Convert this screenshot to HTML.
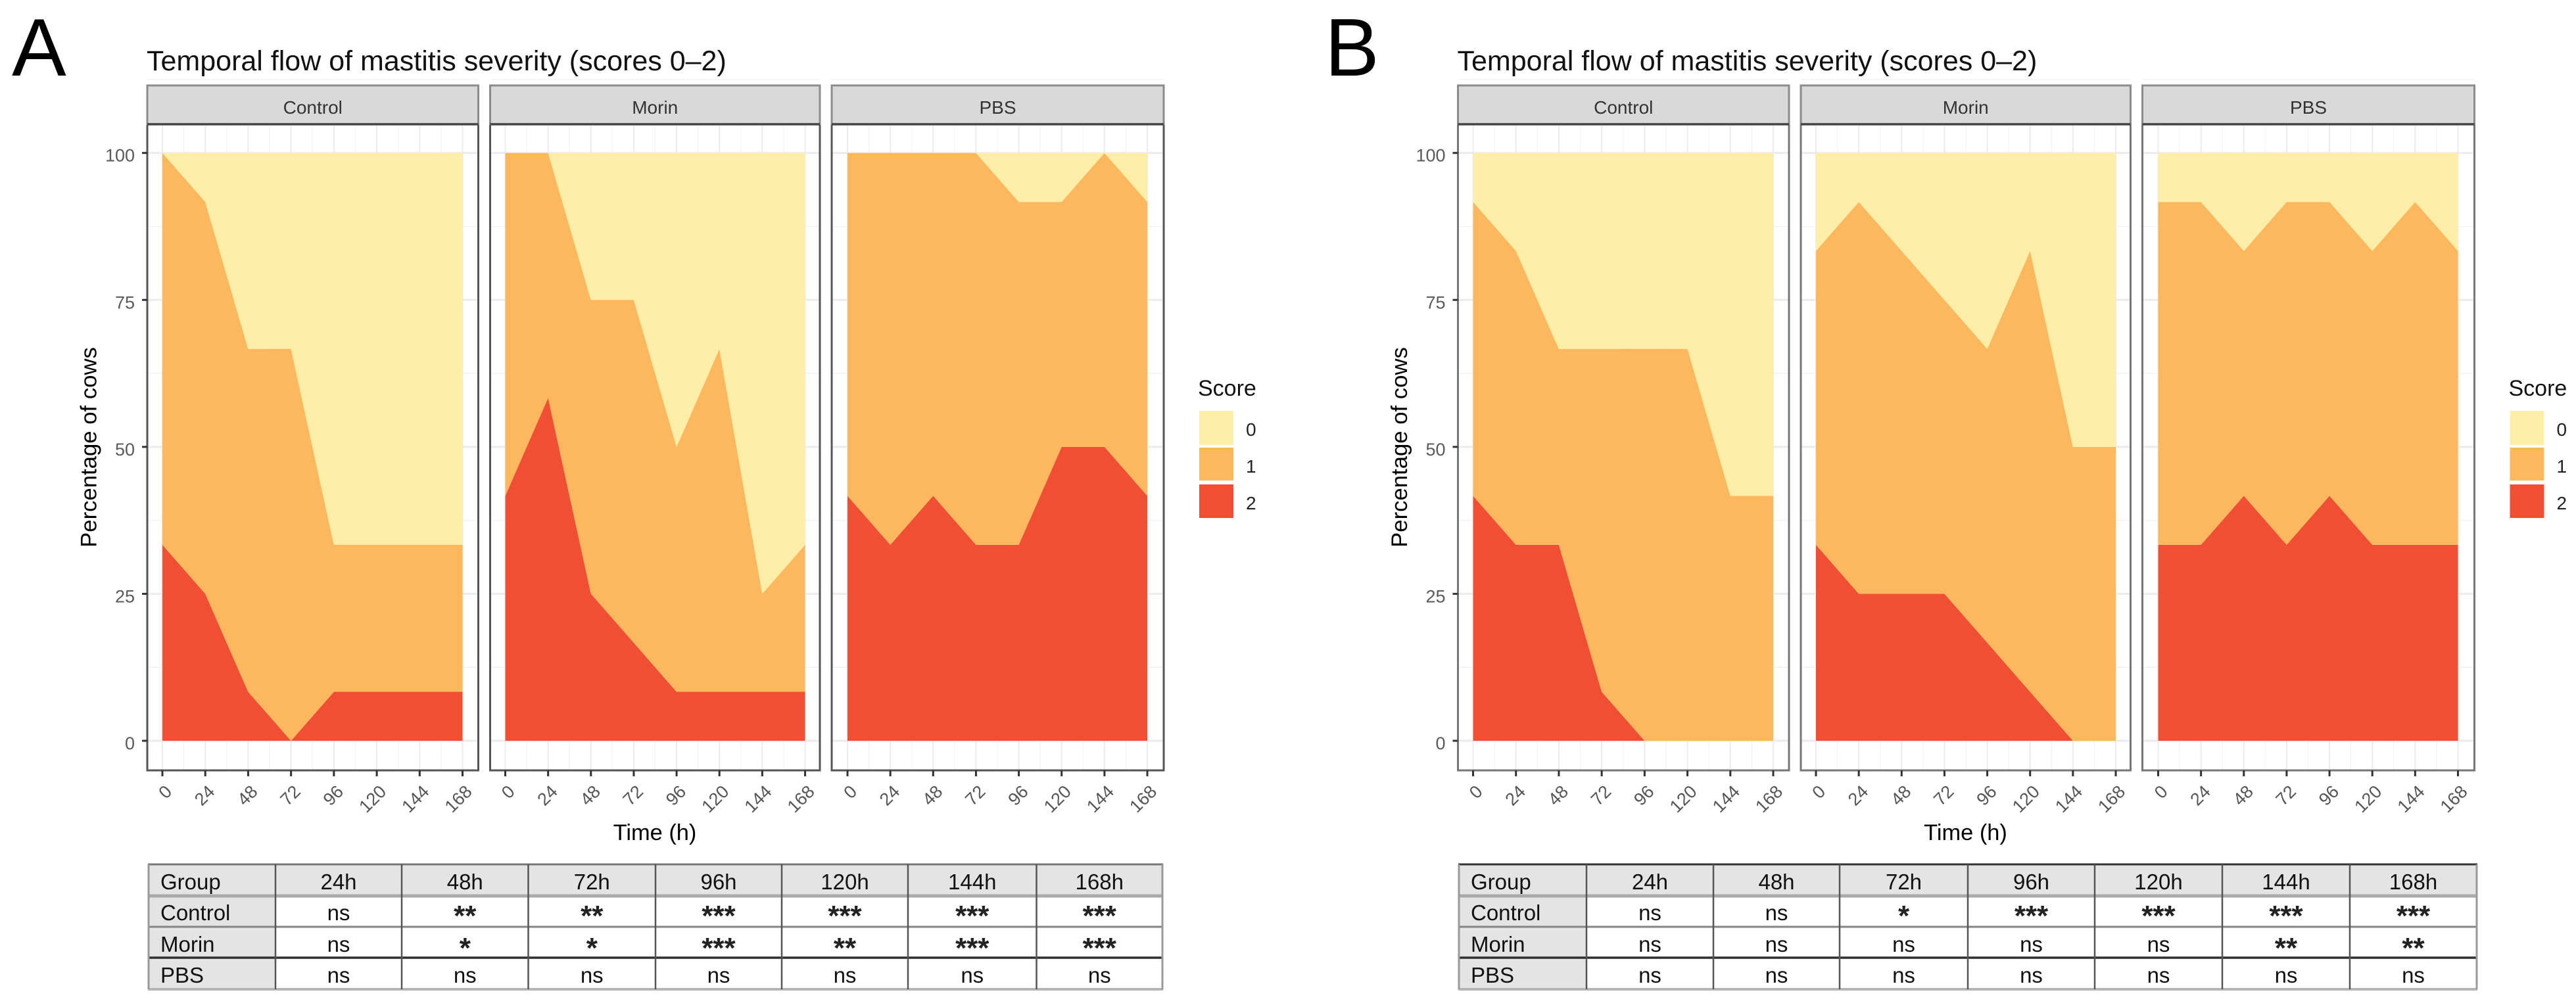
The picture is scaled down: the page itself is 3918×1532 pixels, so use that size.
<!DOCTYPE html>
<html lang="en">
<head>
<meta charset="utf-8">
<title>Temporal flow of mastitis severity</title>
<style>
html,body{margin:0;padding:0;background:#fff;width:3918px;height:1532px;overflow:hidden}
svg{display:block;font-family:"Liberation Sans",Arial,sans-serif}
</style>
</head>
<body>
<svg id="fig" xmlns="http://www.w3.org/2000/svg" width="3918" height="1532" viewBox="0 0 3918 1532"></svg>
<script>
// ---- shared categories and tick labels ----
const hours = [0, 24, 48, 72, 96, 120, 144, 168];
const yTickValues = [0, 25, 50, 75, 100];
const scoreLabels = ['0', '1', '2'];
const groupNames = ['Control', 'Morin', 'PBS'];
const tableHeader = ['Group', '24h', '48h', '72h', '96h', '120h', '144h', '168h'];

// ---- panel A series (percentage of cows) ----
const aControlScore0 = [0, 8.33, 33.33, 33.33, 66.67, 66.67, 66.67, 66.67];
const aControlScore1 = [66.67, 66.67, 58.33, 66.67, 25, 25, 25, 25];
const aControlScore2 = [33.33, 25, 8.33, 0, 8.33, 8.33, 8.33, 8.33];
const aMorinScore0 = [0, 0, 25, 25, 50, 33.33, 75, 66.67];
const aMorinScore1 = [58.33, 41.67, 50, 58.33, 41.67, 58.33, 16.67, 25];
const aMorinScore2 = [41.67, 58.33, 25, 16.67, 8.33, 8.33, 8.33, 8.33];
const aPbsScore0 = [0, 0, 0, 0, 8.33, 8.33, 0, 8.33];
const aPbsScore1 = [58.33, 66.67, 58.33, 66.67, 58.33, 41.67, 50, 50];
const aPbsScore2 = [41.67, 33.33, 41.67, 33.33, 33.33, 50, 50, 41.67];

// ---- panel B series (percentage of cows) ----
const bControlScore0 = [8.33, 16.67, 33.33, 33.33, 33.33, 33.33, 58.33, 58.33];
const bControlScore1 = [50, 50, 33.33, 58.33, 66.67, 66.67, 41.67, 41.67];
const bControlScore2 = [41.67, 33.33, 33.33, 8.33, 0, 0, 0, 0];
const bMorinScore0 = [16.67, 8.33, 16.67, 25, 33.33, 16.67, 50, 50];
const bMorinScore1 = [50, 66.67, 58.33, 50, 50, 75, 50, 50];
const bMorinScore2 = [33.33, 25, 25, 25, 16.67, 8.33, 0, 0];
const bPbsScore0 = [8.33, 8.33, 16.67, 8.33, 8.33, 16.67, 8.33, 16.67];
const bPbsScore1 = [58.33, 58.33, 41.67, 58.33, 50, 50, 58.33, 50];
const bPbsScore2 = [33.33, 33.33, 41.67, 33.33, 41.67, 33.33, 33.33, 33.33];

// ---- significance tables ----
const aControlSig = ['ns', '**', '**', '***', '***', '***', '***'];
const aMorinSig = ['ns', '*', '*', '***', '**', '***', '***'];
const aPbsSig = ['ns', 'ns', 'ns', 'ns', 'ns', 'ns', 'ns'];
const bControlSig = ['ns', 'ns', '*', '***', '***', '***', '***'];
const bMorinSig = ['ns', 'ns', 'ns', 'ns', 'ns', '**', '**'];
const bPbsSig = ['ns', 'ns', 'ns', 'ns', 'ns', 'ns', 'ns'];

// ---- styling and layout (not data) ----
const SCORE_COLORS = ['#FEEEA8', '#FDB85E', '#F14F33'];
const Y_TOP = 232.7, Y_BOTTOM = 1127;
const PANEL_TOP = 189, PANEL_BOTTOM = 1172, STRIP_TOP = 130;
const NS = 'http://www.w3.org/2000/svg';
const root = document.getElementById('fig');

function make(tag, parent, props, text) {
  const el = document.createElementNS(NS, tag);
  for (const k in props) el.setAttribute(k, props[k]);
  if (text !== undefined) el.textContent = text;
  parent.appendChild(el);
  return el;
}
function yScale(v) { return Y_BOTTOM - (v / 100) * (Y_BOTTOM - Y_TOP); }
function xScale(p, h) { return p.x0 + (h / 168) * (p.x1 - p.x0); }

function drawPanel(parent, p, prefix, label, s0, s1, s2, showYAxis, border) {
  const g = make('g', parent, {});
  
  

  // grid
  for (let v = 12.5; v < 125; v += 25) {
    const gl = make('line', g, {x1: p.left, x2: p.right, y1: yScale(v), y2: yScale(v), stroke: '#f2f2f2', 'stroke-width': 1.5});
    
    
  }
  yTickValues.forEach(function (v) {
    const gl = make('line', g, {x1: p.left, x2: p.right, y1: yScale(v), y2: yScale(v), stroke: '#ebebeb', 'stroke-width': 3});
    
    
  });
  hours.forEach(function (h, i) {
    const gl = make('line', g, {x1: xScale(p, h), x2: xScale(p, h), y1: PANEL_TOP, y2: PANEL_BOTTOM, stroke: '#ebebeb', 'stroke-width': 2});
    
    
    if (i < hours.length - 1) {
      const mid = xScale(p, (h + hours[i + 1]) / 2);
      const gm = make('line', g, {x1: mid, x2: mid, y1: PANEL_TOP, y2: PANEL_BOTTOM, stroke: '#f2f2f2', 'stroke-width': 1.2});
      
      
    }
  });

  // stacked areas: score 2 at bottom, then 1, then 0
  const stack = [s2, s1, s0];
  const baseline = hours.map(function () { return 0; });
  stack.forEach(function (series, k) {
    const top = baseline.map(function (b, i) { return b + series[i]; });
    const pts = [];
    hours.forEach(function (h, i) { pts.push(xScale(p, h) + ',' + yScale(top[i])); });
    for (let i = hours.length - 1; i >= 0; i--) pts.push(xScale(p, hours[i]) + ',' + yScale(baseline[i]));
    const area = make('polygon', g, {points: pts.join(' '), fill: SCORE_COLORS[2 - k]});
    
    
    top.forEach(function (t, i) { baseline[i] = t; });
  });

  // border
  const frame = make('rect', g, {x: p.left, y: PANEL_TOP, width: p.right - p.left, height: PANEL_BOTTOM - PANEL_TOP, fill: 'none', stroke: border, 'stroke-width': 3});
  
  

  // strip
  const strip = make('rect', g, {x: p.left, y: STRIP_TOP, width: p.right - p.left, height: PANEL_TOP - STRIP_TOP, fill: '#d9d9d9', stroke: '#8c8c8c', 'stroke-width': 3});
  
  
  const stripLine = make('line', g, {x1: p.left, x2: p.right, y1: PANEL_TOP, y2: PANEL_TOP, stroke: '#444', 'stroke-width': 3.5});
  
  
  const stripText = make('text', g, {x: (p.left + p.right) / 2, y: 173, 'text-anchor': 'middle', 'font-size': 28, fill: '#333'}, label);
  
  

  // x axis
  hours.forEach(function (h) {
    const x = xScale(p, h);
    const t = make('line', g, {x1: x, x2: x, y1: PANEL_BOTTOM, y2: 1181, stroke: '#333', 'stroke-width': 3});
    
    
    const ex = x + 16, ey = 1206;
    const lab = make('text', g, {x: ex, y: ey, 'text-anchor': 'end', 'font-size': 27, fill: '#555', transform: 'rotate(-45 ' + ex + ' ' + ey + ')'}, String(h));
    
    
  });

  // y axis
  if (showYAxis) {
    yTickValues.forEach(function (v) {
      const y = yScale(v);
      const t = make('line', g, {x1: p.left - 8, x2: p.left, y1: y, y2: y, stroke: '#333', 'stroke-width': 3});
      
      
      const lab = make('text', g, {x: p.left - 19, y: y + 13, 'text-anchor': 'end', 'font-size': 27, fill: '#5a5a5a'}, String(v));
      
      
    });
  }
}

function drawLegend(parent, off, prefix) {
  const g = make('g', parent, {});
  
  
  const title = make('text', g, {x: 1822 + off, y: 602, 'font-size': 34, fill: '#111'}, 'Score');
  
  
  const keyTops = [625, 681, 737];
  const keyHeights = [52, 50, 51];
  const labelBase = [663, 719, 775];
  scoreLabels.forEach(function (lab, i) {
    const key = make('rect', g, {x: 1824 + off, y: keyTops[i], width: 52, height: keyHeights[i], fill: SCORE_COLORS[i]});
    
    
    const txt = make('text', g, {x: 1895 + off, y: labelBase[i], 'font-size': 28, fill: '#222'}, lab);
    
    
  });
}

function drawTable(parent, cols, prefix, sigRows, topStroke) {
  const rows = [1315, 1363, 1410, 1457, 1505];
  const baselines = [1353, 1400, 1448, 1495];
  const starBase = [1408, 1457, 1504];
  const g = make('g', parent, {});
  
  
  const headBg = make('rect', g, {x: cols[0], y: rows[0], width: cols[8] - cols[0], height: rows[1] - rows[0], fill: '#e4e4e4'});
  
  
  const colBg = make('rect', g, {x: cols[0], y: rows[0], width: cols[1] - cols[0], height: rows[4] - rows[0], fill: '#e4e4e4'});
  
  

  const hStrokes = [topStroke, '#aaa', '#858585', '#2f2f2f', '#b5b5b5'];
  const hWidths = [3, 5, 3, 3.5, 4];
  rows.forEach(function (y, i) {
    const l = make('line', g, {x1: cols[0] - 1, x2: cols[8] + 1, y1: y, y2: y, stroke: hStrokes[i], 'stroke-width': hWidths[i]});
    
    
  });
  cols.forEach(function (x, i) {
    const edge = i === 0 || i === 8;
    const l = make('line', g, {x1: x, x2: x, y1: rows[0], y2: rows[4], stroke: edge ? '#999' : '#555', 'stroke-width': edge ? 3 : 2.5});
    
    
  });

  tableHeader.forEach(function (h, i) {
    const isFirst = i === 0;
    const t = make('text', g, {x: isFirst ? cols[0] + 18 : (cols[i] + cols[i + 1]) / 2, y: baselines[0], 'text-anchor': isFirst ? 'start' : 'middle', 'font-size': 33, fill: '#111'}, h);
    
    
  });
  groupNames.forEach(function (name, r) {
    const t = make('text', g, {x: cols[0] + 18, y: baselines[r + 1], 'font-size': 33, fill: '#111'}, name);
    
    
    sigRows[r].forEach(function (val, c) {
      const cx = (cols[c + 1] + cols[c + 2]) / 2;
      const star = val !== 'ns';
      const cell = make('text', g, {x: cx, y: star ? starBase[r] : baselines[r + 1], 'text-anchor': 'middle', 'font-size': star ? 44 : 33, 'font-weight': star ? 'bold' : 'normal', fill: star ? '#222' : '#111'}, val);
      
      
    });
  });
}

function drawFigure(off, prefix, letter, letterX, series, sigRows, tableCols, border, tableTop) {
  const g = make('g', root, {});
  
  

  const letterEl = make('text', g, {x: letterX, y: 115, 'font-size': 124, fill: '#000'}, letter);
  
  

  const title = make('text', g, {x: 223 + off, y: 107, 'font-size': 43, fill: '#111'}, 'Temporal flow of mastitis severity (scores 0\u20132)');
  
  

  const panels = [
    {left: 224 + off, right: 727.5 + off, x0: 247 + off, x1: 703.5 + off},
    {left: 745.5 + off, right: 1247 + off, x0: 768.5 + off, x1: 1224.5 + off},
    {left: 1265 + off, right: 1770 + off, x0: 1289 + off, x1: 1745 + off}
  ];
  panels.forEach(function (p, i) {
    drawPanel(g, p, prefix, groupNames[i], series[i][0], series[i][1], series[i][2], i === 0, border);
  });

  const xt = make('text', g, {x: 996 + off, y: 1278, 'text-anchor': 'middle', 'font-size': 34.4, fill: '#000'}, 'Time (h)');
  
  
  const yx = 146.5 + off, yy = 680.5;
  const yt = make('text', g, {x: yx, y: yy, 'text-anchor': 'middle', 'font-size': 34.7, fill: '#000', transform: 'rotate(-90 ' + yx + ' ' + yy + ')'}, 'Percentage of cows');
  
  

  drawLegend(g, off, prefix);
  drawTable(g, tableCols, prefix, sigRows, tableTop);
}

drawFigure(0, 'a', 'A', 18,
  [[aControlScore0, aControlScore1, aControlScore2],
   [aMorinScore0, aMorinScore1, aMorinScore2],
   [aPbsScore0, aPbsScore1, aPbsScore2]],
  [aControlSig, aMorinSig, aPbsSig],
  [226, 419, 611, 803.5, 997, 1189, 1381, 1576.5, 1768],
  '#555', '#777');

drawFigure(1993.5, 'b', 'B', 2015,
  [[bControlScore0, bControlScore1, bControlScore2],
   [bMorinScore0, bMorinScore1, bMorinScore2],
   [bPbsScore0, bPbsScore1, bPbsScore2]],
  [bControlSig, bMorinSig, bPbsSig],
  [2219, 2413, 2606, 2798, 2993, 3186, 3380, 3574, 3767],
  '#777', '#333');
</script>
</body>
</html>
